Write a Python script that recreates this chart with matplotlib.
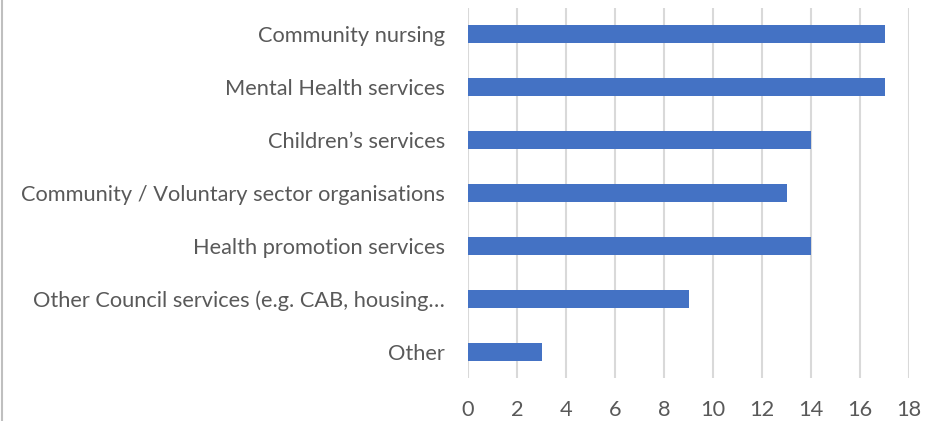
import matplotlib
matplotlib.use("Agg")
import matplotlib.pyplot as plt
from matplotlib.lines import Line2D

categories = [
    "Community nursing",
    "Mental Health services",
    "Children\u2019s services",
    "Community / Voluntary sector organisations",
    "Health promotion services",
    "Other Council services (e.g. CAB, housing\u2026",
    "Other",
]
values = [17, 17, 14, 13, 14, 9, 3]
xticks = list(range(0, 19, 2))

plt.rcParams['font.family'] = ['Lato', 'DejaVu Sans']

W, H = 929, 421
fig = plt.figure(figsize=(W / 100, H / 100), dpi=100)
ax = fig.add_axes([468 / W, 1 - 378 / H, (909 - 468) / W, (378 - 8) / H])

n = len(categories)
ypos = list(range(n))
ax.barh(ypos, values, height=0.34, color="#4472C4", zorder=3)
ax.set_ylim(n - 0.5, -0.5)
ax.set_xlim(0, 18)
ax.set_yticks(ypos)
ax.set_yticklabels(categories, fontsize=15.7, color="#595959")
ax.set_xticks(xticks)
ax.set_xticklabels([str(t) for t in xticks], fontsize=15.7, color="#595959")
ax.tick_params(axis='both', length=0)
ax.tick_params(axis='y', pad=16.5)
ax.tick_params(axis='x', pad=16)
ax.grid(axis='x', color="#d9d9d9", linewidth=1.5, zorder=0)
for s in ax.spines.values():
    s.set_visible(False)

fig.add_artist(Line2D([2 / W, 2 / W], [0, 1], transform=fig.transFigure, color="#bfbfbf", linewidth=1.5))

fig.savefig("out.png", dpi=100, facecolor="white")
